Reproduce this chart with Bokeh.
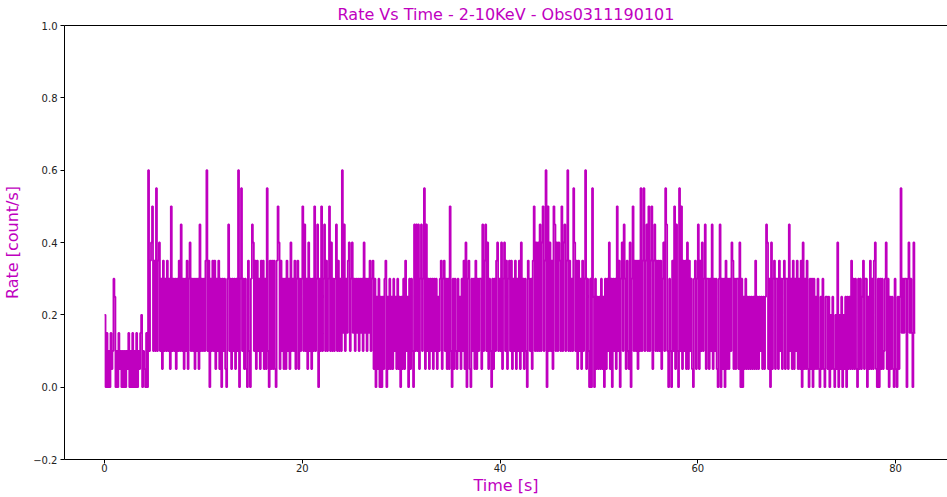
import numpy as np
from bokeh.plotting import figure
from bokeh.models import Range1d, FixedTicker, LinearAxis
from bokeh.embed import file_html
from bokeh.resources import INLINE

# ---- data (rate in count/s, one value per time bin) ----
bin_width = 0.1

rate_00_20 = [
    0.2, 0, 0.15, 0, 0.1, 0, 0.15, 0.05, 0.1, 0.3,
    0.25, 0, 0.1, 0, 0.15, 0.05, 0.1, 0, 0.1, 0,
    0.1, 0, 0.1, 0.05, 0.15, 0, 0.1, 0, 0.15, 0,
    0.1, 0, 0.15, 0, 0.1, 0.05, 0.15, 0.2, 0, 0.1,
    0.05, 0, 0.15, 0, 0.6, 0.1, 0.35, 0.4, 0.5, 0.1,
    0.35, 0.1, 0.55, 0.1, 0.35, 0.4, 0.1, 0.3, 0.05, 0.35,
    0.1, 0.3, 0.1, 0.35, 0.1, 0.3, 0.05, 0.5, 0.1, 0.3,
    0.1, 0.3, 0.05, 0.3, 0.1, 0.35, 0.1, 0.45, 0.1, 0.3,
    0.05, 0.3, 0.1, 0.35, 0.05, 0.3, 0.4, 0.1, 0.3, 0.1,
    0.3, 0.05, 0.3, 0.1, 0.3, 0.05, 0.45, 0.1, 0.3, 0.1,
    0.3, 0.1, 0.35, 0.6, 0.1, 0.35, 0, 0.3, 0.1, 0.35,
    0.1, 0.35, 0.05, 0.3, 0.1, 0.35, 0.05, 0.3, 0, 0.3,
    0.1, 0.3, 0.05, 0, 0.3, 0.45, 0.1, 0.3, 0.05, 0.3,
    0.1, 0.3, 0.05, 0.3, 0.1, 0.6, 0, 0.3, 0.55, 0.1,
    0.3, 0.05, 0.3, 0.05, 0, 0.35, 0.1, 0, 0.3, 0.45,
    0.4, 0.1, 0.35, 0.05, 0.35, 0.1, 0.3, 0.05, 0.35, 0.1,
    0.35, 0.05, 0.3, 0.05, 0.55, 0.1, 0, 0.35, 0.05, 0.35,
    0.05, 0.35, 0.05, 0, 0.35, 0.5, 0.4, 0.05, 0.35, 0.1,
    0.3, 0.05, 0.3, 0.05, 0.35, 0.1, 0.3, 0.05, 0.4, 0.1,
    0.3, 0.1, 0.35, 0.05, 0.3, 0.35, 0.05, 0.3, 0.1, 0.3,
]

rate_20_40 = [
    0.5, 0.1, 0.45, 0.1, 0.3, 0.05, 0.4, 0.1, 0.3, 0.05,
    0.3, 0.1, 0.5, 0.1, 0.3, 0.45, 0, 0.3, 0.1, 0.5,
    0.1, 0.3, 0.45, 0.1, 0.35, 0.1, 0.3, 0.5, 0.1, 0.4,
    0.1, 0.3, 0.1, 0.3, 0.45, 0.1, 0.35, 0.1, 0.3, 0.1,
    0.6, 0.15, 0.45, 0.1, 0.3, 0.15, 0.35, 0.4, 0.1, 0.3,
    0.4, 0.15, 0.3, 0.1, 0.3, 0.15, 0.3, 0.1, 0.3, 0.15,
    0.3, 0.1, 0.4, 0.15, 0.3, 0.1, 0.3, 0.15, 0.35, 0.1,
    0.3, 0.35, 0.05, 0.3, 0, 0.25, 0.05, 0.3, 0, 0.25,
    0, 0.25, 0.05, 0.3, 0.35, 0, 0.25, 0.05, 0.3, 0.05,
    0.25, 0.05, 0.3, 0.1, 0.25, 0.05, 0.3, 0.05, 0.25, 0,
    0.25, 0.05, 0.3, 0.05, 0.35, 0.1, 0.25, 0, 0.3, 0.05,
    0.3, 0.1, 0, 0.45, 0.1, 0.45, 0.1, 0.45, 0.05, 0.3,
    0.45, 0.1, 0.3, 0.55, 0.05, 0.45, 0.1, 0.3, 0.05, 0.3,
    0.1, 0.3, 0.05, 0.3, 0.1, 0.3, 0.05, 0.25, 0.1, 0.3,
    0.35, 0.05, 0.3, 0.35, 0.1, 0.3, 0.05, 0.3, 0.05, 0.5,
    0.1, 0, 0.3, 0.05, 0.3, 0.1, 0.05, 0.3, 0.1, 0.25,
    0.05, 0.3, 0.1, 0.35, 0.05, 0.4, 0, 0.3, 0.35, 0.05,
    0, 0.3, 0.1, 0.3, 0.05, 0.35, 0.05, 0.3, 0.1, 0.3,
    0.3, 0.05, 0.45, 0.1, 0.35, 0.45, 0.1, 0.4, 0.05, 0.3,
    0.1, 0, 0.3, 0.05, 0.3, 0.1, 0.35, 0.4, 0.1, 0.3,
]

rate_40_60 = [
    0.1, 0.4, 0.05, 0.3, 0.4, 0.1, 0.35, 0.05, 0.3, 0.35,
    0.1, 0.35, 0.05, 0.3, 0.1, 0.35, 0.05, 0.3, 0.1, 0.35,
    0.05, 0.4, 0.1, 0.3, 0.05, 0.3, 0.1, 0, 0.35, 0.3,
    0.1, 0.3, 0.05, 0.35, 0.5, 0.1, 0.4, 0.1, 0.4, 0.1,
    0.45, 0.1, 0.4, 0.5, 0.1, 0.35, 0.6, 0, 0.5, 0.1,
    0.4, 0.1, 0.35, 0.05, 0.5, 0.45, 0.1, 0.4, 0.1, 0.4,
    0.35, 0.1, 0.5, 0.1, 0.4, 0.45, 0.1, 0.35, 0.6, 0.1,
    0.35, 0.1, 0.3, 0.1, 0.55, 0.4, 0.1, 0.35, 0.05, 0.35,
    0.1, 0.3, 0.05, 0.35, 0.1, 0.3, 0.6, 0.05, 0.3, 0.1,
    0, 0.3, 0, 0.55, 0.25, 0, 0.3, 0.05, 0.25, 0.05,
    0.25, 0.05, 0.3, 0.05, 0.25, 0, 0.3, 0.05, 0.3, 0.1,
    0.4, 0.05, 0.3, 0, 0.3, 0.1, 0.3, 0.05, 0.5, 0.1,
    0.35, 0, 0.3, 0.4, 0.1, 0.45, 0.3, 0.05, 0.35, 0.1,
    0.05, 0.4, 0, 0.3, 0.5, 0.1, 0.35, 0.1, 0.35, 0.05,
    0.35, 0.1, 0.55, 0.1, 0.35, 0.55, 0.1, 0.35, 0.45, 0.1,
    0.5, 0.1, 0.35, 0.5, 0.05, 0.35, 0.45, 0.1, 0.35, 0.1,
    0.35, 0.1, 0.35, 0.05, 0.3, 0.4, 0.1, 0.55, 0.45, 0.1,
    0, 0.3, 0.1, 0, 0.35, 0.1, 0.5, 0.05, 0.45, 0.1,
    0, 0.55, 0.1, 0.5, 0.05, 0.35, 0.1, 0.35, 0.05, 0.4,
    0.05, 0.35, 0.1, 0.3, 0.05, 0, 0.3, 0.35, 0.05, 0.3,
]

rate_60_82 = [
    0.45, 0.05, 0.35, 0.1, 0.4, 0.1, 0.3, 0.45, 0.05, 0.3,
    0.3, 0.05, 0.3, 0.1, 0.45, 0.05, 0.3, 0.1, 0.3, 0.05,
    0, 0.3, 0.45, 0, 0.3, 0.05, 0.3, 0, 0.35, 0.05,
    0.3, 0.05, 0.3, 0.1, 0.4, 0.35, 0.05, 0.3, 0.05, 0.3,
    0.3, 0.05, 0.4, 0, 0.3, 0, 0.25, 0.05, 0.3, 0.05,
    0.25, 0.05, 0.25, 0.05, 0.25, 0.05, 0.25, 0.05, 0.35, 0.05,
    0.25, 0.05, 0.25, 0.1, 0.25, 0.05, 0.25, 0.05, 0.25, 0.45,
    0.4, 0.05, 0.3, 0, 0.4, 0.05, 0.3, 0.35, 0.05, 0.3,
    0.3, 0.05, 0.35, 0.1, 0.3, 0.05, 0.3, 0.35, 0.05, 0.3,
    0.3, 0.05, 0.45, 0.1, 0.3, 0.05, 0.35, 0.05, 0.3, 0.1,
    0.35, 0.05, 0.3, 0.05, 0.35, 0, 0.4, 0.05, 0.3, 0.05,
    0.35, 0.05, 0, 0.3, 0.05, 0.3, 0, 0.3, 0.05, 0.25,
    0.05, 0.3, 0.05, 0, 0.25, 0.05, 0.3, 0.05, 0, 0.25,
    0.25, 0.05, 0.25, 0, 0.2, 0.05, 0.25, 0.05, 0, 0.2,
    0.05, 0.4, 0, 0.2, 0.05, 0.25, 0, 0.2, 0.05, 0.25,
    0, 0.25, 0.05, 0.25, 0.05, 0.35, 0.05, 0.3, 0.05, 0.3,
    0.05, 0, 0.3, 0.05, 0.3, 0.05, 0.25, 0.35, 0.05, 0.3,
    0.3, 0, 0.25, 0.05, 0.35, 0.05, 0.3, 0.05, 0.35, 0.4,
    0.05, 0, 0.3, 0, 0.3, 0.05, 0.3, 0.05, 0.1, 0.3,
    0.4, 0.05, 0.3, 0, 0.25, 0.05, 0.25, 0.05, 0, 0.3,
    0.05, 0, 0.25, 0.05, 0.25, 0.55, 0.15, 0.3, 0.15, 0.3,
    0.3, 0, 0.3, 0.4, 0.15, 0.3, 0.15, 0, 0.4, 0.15,
]

x_ticks = [0, 20, 40, 60, 80]
y_ticks = [-0.2, 0.0, 0.2, 0.4, 0.6, 0.8, 1.0]
y_tick_labels = ["\u22120.2", "0.0", "0.2", "0.4", "0.6", "0.8", "1.0"]

title_text = "Rate Vs Time - 2-10KeV - Obs0311190101"
x_label = "Time [s]"
y_label = "Rate [count/s]"

# ---- build ----
rate = np.array(rate_00_20 + rate_20_40 + rate_40_60 + rate_60_82, dtype=float)
time = np.round(np.arange(len(rate) + 1) * bin_width, 3)
rate_step = np.append(rate, rate[-1])

MAG = "#bf00bf"
FONT = "DejaVu Sans"

p = figure(width=947, height=497, output_backend="svg", toolbar_location=None,
           x_range=Range1d(-4.05, 85.25), y_range=Range1d(-0.2, 1.0),
           min_border_left=63, min_border_right=0, min_border_top=0,
           min_border_bottom=37, title=title_text)

p.step(time, rate_step, mode="after", line_color=MAG, line_width=1.8)

p.title.align = "center"
p.title.text_color = MAG
p.title.text_font = FONT
p.title.text_font_size = "16px"
p.title.text_font_style = "normal"
p.title.standoff = 4
p.title.offset = 0

p.xgrid.visible = False
p.ygrid.visible = False
p.outline_line_color = None
p.background_fill_color = "white"
p.border_fill_color = "white"

for ax in (p.xaxis[0], p.yaxis[0]):
    ax.axis_line_color = "black"
    ax.axis_line_width = 1
    ax.major_tick_line_color = "black"
    ax.major_tick_out = 4
    ax.major_tick_in = 0
    ax.minor_tick_line_color = None
    ax.major_label_text_font = FONT
    ax.major_label_text_font_size = "10px"
    ax.major_label_text_color = "#222222"
    ax.axis_label_text_font = FONT
    ax.axis_label_text_font_size = "16px"
    ax.axis_label_text_font_style = "normal"
    ax.axis_label_text_color = MAG

p.xaxis[0].ticker = FixedTicker(ticks=x_ticks)
p.xaxis[0].axis_label = x_label
p.xaxis[0].major_label_standoff = 0
p.xaxis[0].axis_label_standoff = 1

p.yaxis[0].ticker = FixedTicker(ticks=y_ticks)
p.yaxis[0].major_label_overrides = {v: s for v, s in zip(y_ticks, y_tick_labels)}
p.yaxis[0].axis_label = y_label
p.yaxis[0].major_label_standoff = 3
p.yaxis[0].axis_label_standoff = 8

top_axis = LinearAxis(ticker=FixedTicker(ticks=[]), major_label_text_font_size="0px",
                      major_tick_line_color=None, minor_tick_line_color=None,
                      axis_line_color="black", axis_line_width=1)
p.add_layout(top_axis, "above")

open("out.html", "w").write(file_html(p, INLINE))
